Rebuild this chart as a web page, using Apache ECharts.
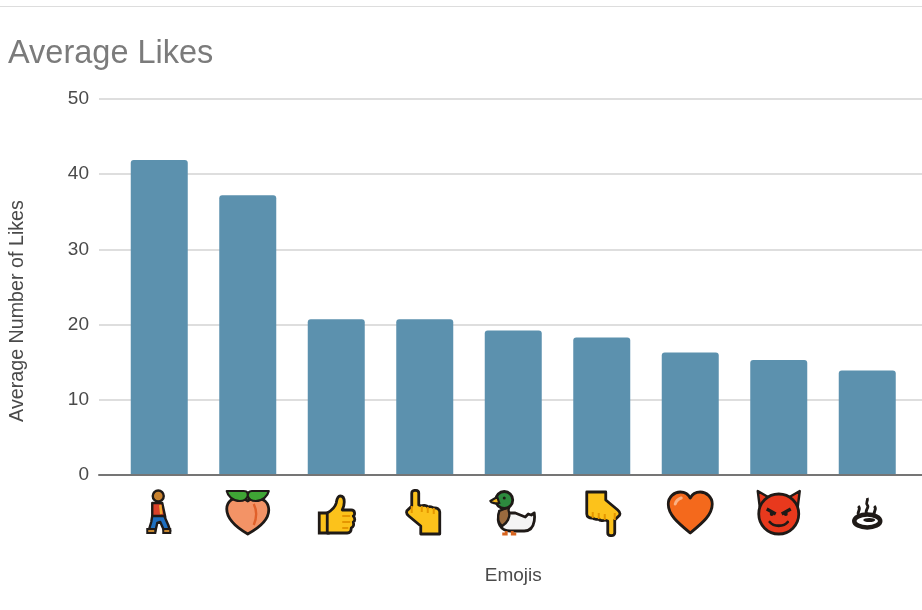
<!DOCTYPE html>
<html><head><meta charset="utf-8">
<style>html,body{margin:0;padding:0;background:#fff}#c{width:922px;height:610px}</style>
<script src="https://cdn.jsdelivr.net/npm/echarts@6/dist/echarts.min.js"></script>
</head><body><div id="c"></div>
<script>
const categories = ['🚶','🍑','👍','👆','🦆','👇','🧡','😈','♨'];
const likes = [41.9, 37.2, 20.7, 20.7, 19.2, 18.3, 16.3, 15.3, 13.9];
const yTicks = [0, 10, 20, 30, 40, 50];

const K = '#1f1a17';
const handUp = `<path d="M11 4c0-3.500 7-3.500 7 0v12l3 1c1-1 5-1 6 1 2-1 5 0 6 1 3-.5 6 1 6 4V45H20V37L8 27c-3-2.500-3-5 0-7l3-3z" fill="#fcc21b" stroke="${K}" stroke-width="2.800" stroke-linejoin="round"/><path d="M21 17v6M27 18v6M33 19v6M11 17v7" stroke="#e59600" stroke-width="2" fill="none"/>`;
const icons = [
`<circle cx="23" cy="7" r="5.500" fill="#c8822f" stroke="${K}" stroke-width="2.400"/><path d="M17 14h10l3 14H17z" fill="#d9412b" stroke="${K}" stroke-width="2.400" stroke-linejoin="round"/><path d="M17 27h12l4 9 2 6h-6l-4-9-3 1-2 9h-7l3-10z" fill="#1e6fc0" stroke="${K}" stroke-width="2.400" stroke-linejoin="round"/><path d="M25 16l1 9" stroke="#f0a830" stroke-width="2.500"/><path d="M12 40h8v4h-8zM28 40h7v4h-7z" fill="#c8882f" stroke="${K}" stroke-width="2"/>`,
`<path d="M24 45C12 38 3 30 3 20 3 12 10 8 16 9c4 .5 7 2 8 3 2-2 5-3 9-3 7 0 12 5 12 12 0 10-10 18-21 24z" fill="#f39366" stroke="${K}" stroke-width="2.800" stroke-linejoin="round"/><path d="M3 2h17c4 0 4 2 4 5 0-3 1-5 4-5h17c-1 5-6 10-13 10-4 0-7-2-8-5-1 3-4 5-8 5-7 0-12-5-13-10z" fill="#3fa535" stroke="${K}" stroke-width="2.200" stroke-linejoin="round"/><path d="M30 15c3 6 3 14 0 21" stroke="#e0602a" stroke-width="2.400" fill="none"/>`,
`<path d="M7 24h9v20H7z" fill="#fcc21b" stroke="${K}" stroke-width="2.800"/><path d="M15 24c5-3 8-6 9-10 .5-3 1-7 4-7s4 3 4 6-1 6-2 8h9c4 0 4 5 2 6 2 2 2 5 0 6 1 3 0 5-2 6 0 3-1 5-4 5H15z" fill="#fcc21b" stroke="${K}" stroke-width="2.800" stroke-linejoin="round"/><path d="M30 27h8M30 33h8M30 39h6" stroke="#e59600" stroke-width="2.200" fill="none"/>`,
handUp,
`<path d="M10 24c-3 9 1 18 11 18h14c6 0 9-4 10-10 .5-3 .5-5 0-8l-3 2-3-1-3 3-10-4z" fill="#f4f4f4" stroke="${K}" stroke-width="2.800" stroke-linejoin="round"/><path d="M10 22c-2 6-1 12 3 15 5-3 8-9 7-13-1-2-1-4 0-6z" fill="#9a6a3e" stroke="${K}" stroke-width="2.400"/><circle cx="15" cy="11" r="8.500" fill="#2d8a3e" stroke="${K}" stroke-width="2.800"/><path d="M8 8L1 12c1 2 6 3 9 2z" fill="#f0b520" stroke="${K}" stroke-width="2.200"/><circle cx="15" cy="9" r="1.500" fill="${K}"/><path d="M17 42v3h-4M23 42v3h4" stroke="#d8641e" stroke-width="2.800" fill="none"/>`,
`<g transform="rotate(180 24 24)">${handUp}</g>`,
`<path d="M24 44C12 34 2 26 2 15 2 8 8 3 14 3c4 0 8 2 10 6 2-4 6-6 10-6 6 0 12 5 12 12 0 11-10 19-22 29z" fill="#f4691c" stroke="${K}" stroke-width="2.800" stroke-linejoin="round"/><path d="M9 15c1-4 3-5 6-6" stroke="#fbb184" stroke-width="3" fill="none" stroke-linecap="round"/>`,
`<path d="M3 2l12 7h18l12-7-2 16H5z" fill="#e8391d" stroke="${K}" stroke-width="2.400" stroke-linejoin="round"/><circle cx="24" cy="25" r="20" fill="#e8391d" stroke="${K}" stroke-width="2.800"/><path d="M12 20l9 5M36 20l-9 5" stroke="${K}" stroke-width="3.200"/><circle cx="17" cy="25" r="2" fill="${K}"/><circle cx="31" cy="25" r="2" fill="${K}"/><path d="M15 33c4 5 14 5 18 0" stroke="${K}" stroke-width="2.800" fill="none" stroke-linecap="round"/>`,
`<ellipse cx="24" cy="32" rx="13" ry="6.500" fill="none" stroke="${K}" stroke-width="4.500"/><ellipse cx="26" cy="31" rx="6" ry="2" fill="${K}"/><path d="M16 27c-4-4 3-6-1-10M24 26c-4-5 3-7 0-10-2-2 1-4 0-7M32 27c-4-4 3-6-1-10" stroke="${K}" stroke-width="2.800" fill="none"/>`
];
const iconUrl = s => 'data:image/svg+xml;charset=utf-8,' + encodeURIComponent(`<svg xmlns="http://www.w3.org/2000/svg" width="96" height="96" viewBox="0 0 48 48">${s}</svg>`);
const rich = {};
icons.forEach((s, i) => { rich['e' + i] = {width: 48, height: 48, color: 'transparent', fontSize: 14, backgroundColor: {image: iconUrl(s)}}; });

const FONT = '"Liberation Sans", Arial, sans-serif';
const chart = echarts.init(document.getElementById('c'), null, {renderer: 'canvas'});
chart.setOption({
  animation: false,
  backgroundColor: '#fff',
  title: {text: 'Average Likes', left: 3, top: 33, textStyle: {fontFamily: FONT, fontSize: 32.500, fontWeight: 'normal', color: '#7b7b7b'}},
  graphic: [{type: 'rect', shape: {x: 0, y: 6, width: 922, height: 1}, style: {fill: '#dddddd'}, silent: true}],
  grid: [
    {left: 99, top: 99, width: 823, height: 376, outerBoundsMode: 'none'},
    {left: 115, top: 99, width: 796.5, height: 376, outerBoundsMode: 'none'}
  ],
  xAxis: [
    {type: 'category', gridIndex: 0, data: categories, axisTick: {show: false}, axisLabel: {show: false},
     axisLine: {show: true, lineStyle: {color: '#757575', width: 2}}, z: 5},
    {type: 'category', gridIndex: 1, data: categories, axisTick: {show: false}, axisLine: {show: false},
     name: 'Emojis', nameLocation: 'middle', nameGap: 91,
     nameTextStyle: {fontFamily: FONT, fontSize: 19, color: '#4a4a4a'},
     axisLabel: {interval: 0, margin: 14, formatter: (v, i) => `{e${i}|${v}}`, rich: rich}}
  ],
  yAxis: [
    {type: 'value', gridIndex: 0, min: 0, max: 50, interval: 10,
     axisLine: {show: false}, axisTick: {show: false},
     splitLine: {lineStyle: {color: '#dedede', width: 2}},
     axisLabel: {margin: 10, fontFamily: FONT, fontSize: 19, color: '#4a4a4a',
       formatter: v => yTicks.includes(v) ? String(v) : ''},
     name: 'Average Number of Likes', nameLocation: 'middle', nameGap: 71,
     nameTextStyle: {fontFamily: FONT, fontSize: 19.700, color: '#4a4a4a', padding: [0, 48, 0, 0]}},
    {type: 'value', gridIndex: 1, min: 0, max: 50, interval: 10, show: false}
  ],
  series: [{
    type: 'bar', xAxisIndex: 1, yAxisIndex: 1, data: likes, barWidth: 57,
    itemStyle: {color: '#5c91ae', borderRadius: [3, 3, 0, 0]}, z: 3
  }]
});
</script></body></html>
